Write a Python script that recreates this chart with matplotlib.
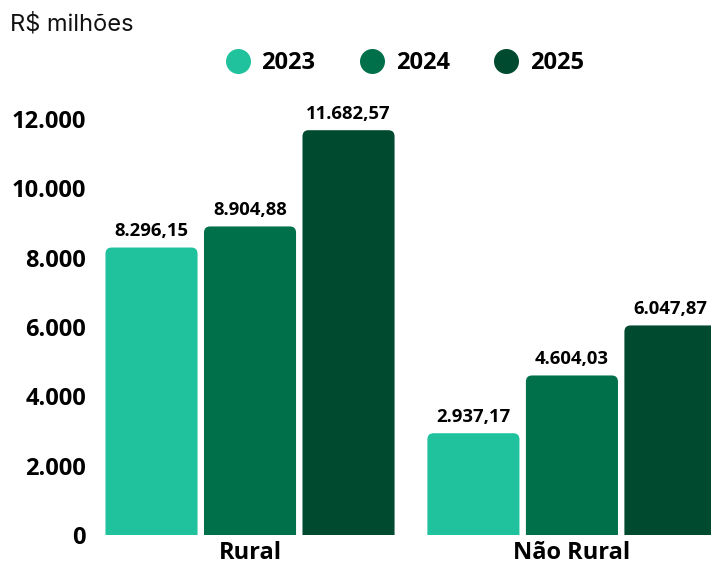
import matplotlib
matplotlib.use("Agg")
import matplotlib.pyplot as plt
from matplotlib.patches import FancyBboxPatch
from matplotlib.lines import Line2D
import numpy as np

# data
categories = ["Rural", "Não Rural"]
years = ["2023", "2024", "2025"]
values_2023 = [8296.15, 2937.17]
values_2024 = [8904.88, 4604.03]
values_2025 = [11682.57, 6047.87]
yticks = [0, 2000, 4000, 6000, 8000, 10000, 12000]

colors = ["#1fc29d", "#00704a", "#004a2f"]
series = [values_2023, values_2024, values_2025]
FONT = ["Open Sans", "DejaVu Sans"]


def br(v, dec=2):
    # brazilian number format: 8.296,15
    s = f"{v:,.{dec}f}"
    return s.replace(",", "X").replace(".", ",").replace("X", ".")


fig = plt.figure(figsize=(7.11, 5.66), dpi=100)
ax = fig.add_axes([100 / 711, 31 / 566, 611 / 711, 435 / 566])

x = np.arange(len(categories))
width = 0.286
step = 0.306
ry = 180  # corner radius in data units (y)
rx = 0.019

for i, vals in enumerate(series):
    bars = ax.bar(x + (i - 1) * step, vals, width, color=colors[i], alpha=0)
    for b, v in zip(bars, vals):
        patch = FancyBboxPatch((b.get_x(), -ry), b.get_width(), v + ry,
                               boxstyle=f"round,pad=0,rounding_size={rx}",
                               mutation_aspect=ry / rx,
                               facecolor=colors[i], edgecolor="none")
        ax.add_patch(patch)
        ax.text(b.get_x() + b.get_width() / 2, v + 220, br(v),
                ha="center", va="bottom", fontsize=13.3, fontweight="bold",
                family=FONT, clip_on=False)

ax.set_xlim(-0.466, 1.432)
ax.set_ylim(0, 12554)
ax.set_yticks(yticks)
ax.set_yticklabels([br(t, 0) for t in yticks], fontsize=17,
                   fontweight="bold", family=FONT)
ax.set_xticks(x)
ax.set_xticklabels(categories, fontsize=17, fontweight="bold", family=FONT)
ax.tick_params(axis="both", length=0)
ax.tick_params(axis="y", pad=10)
ax.tick_params(axis="x", pad=4)
for s in ax.spines.values():
    s.set_visible(False)

fig.text(10 / 711, 1 - 24 / 566, "R$ milhões", fontsize=17, family="Inter",
         va="center", ha="left", color="#111111")

handles = [Line2D([], [], marker="o", linestyle="none", markersize=18,
                  markerfacecolor=c, markeredgecolor="none") for c in colors]
fig.legend(handles, years, loc="center", bbox_to_anchor=(405 / 711, 1 - 63 / 566),
           ncol=3, frameon=False, handlelength=1.0, handletextpad=0.5,
           columnspacing=1.9,
           prop={"family": FONT, "weight": "bold", "size": 17})

fig.savefig("out.png", dpi=100)
